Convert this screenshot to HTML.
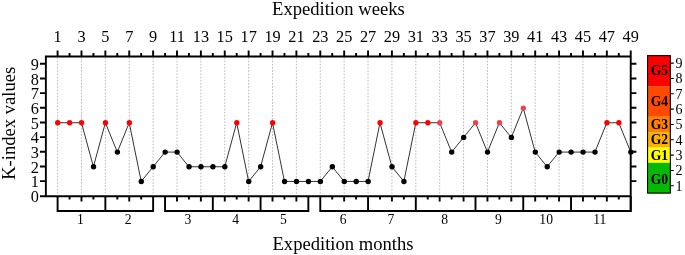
<!DOCTYPE html><html><head><meta charset="utf-8"><style>html,body{margin:0;padding:0;background:#fff;width:685px;height:255px;overflow:hidden}svg{display:block;will-change:transform}</style></head><body><svg width="685" height="255" viewBox="0 0 685 255">
<path d="M57.60 57.4V194.8 M81.48 57.4V194.8 M105.36 57.4V194.8 M129.24 57.4V194.8 M153.12 57.4V194.8 M177.00 57.4V194.8 M200.88 57.4V194.8 M224.76 57.4V194.8 M248.64 57.4V194.8 M272.52 57.4V194.8 M296.40 57.4V194.8 M320.28 57.4V194.8 M344.16 57.4V194.8 M368.04 57.4V194.8 M391.92 57.4V194.8 M415.80 57.4V194.8 M439.68 57.4V194.8 M463.56 57.4V194.8 M487.44 57.4V194.8 M511.32 57.4V194.8 M535.20 57.4V194.8 M559.08 57.4V194.8 M582.96 57.4V194.8 M606.84 57.4V194.8" stroke="#bdbdbd" stroke-width="1" stroke-dasharray="1.7 1.5" fill="none"/>
<polyline points="57.60,122.75 69.54,122.75 81.48,122.75 93.42,166.76 105.36,122.75 117.30,152.09 129.24,122.75 141.18,181.43 153.12,166.76 165.06,152.09 177.00,152.09 188.94,166.76 200.88,166.76 212.82,166.76 224.76,166.76 236.70,122.75 248.64,181.43 260.58,166.76 272.52,122.75 284.46,181.43 296.40,181.43 308.34,181.43 320.28,181.43 332.22,166.76 344.16,181.43 356.10,181.43 368.04,181.43 379.98,122.75 391.92,166.76 403.86,181.43 415.80,122.75 427.74,122.75 439.68,122.75 451.62,152.09 463.56,137.42 475.50,122.75 487.44,152.09 499.38,122.75 511.32,137.42 523.26,108.08 535.20,152.09 547.14,166.76 559.08,152.09 571.02,152.09 582.96,152.09 594.90,152.09 606.84,122.75 618.78,122.75 630.72,152.09" fill="none" stroke="#333" stroke-width="1.0"/>
<circle cx="57.70" cy="122.75" r="2.7" fill="#ff0000"/>
<circle cx="69.64" cy="122.75" r="2.7" fill="#ff0000"/>
<circle cx="81.58" cy="122.75" r="2.7" fill="#ff0000"/>
<circle cx="93.52" cy="166.76" r="2.7" fill="#000"/>
<circle cx="105.46" cy="122.75" r="2.7" fill="#ff0000"/>
<circle cx="117.40" cy="152.09" r="2.7" fill="#000"/>
<circle cx="129.34" cy="122.75" r="2.7" fill="#ff0000"/>
<circle cx="141.28" cy="181.43" r="2.7" fill="#000"/>
<circle cx="153.22" cy="166.76" r="2.7" fill="#000"/>
<circle cx="165.16" cy="152.09" r="2.7" fill="#000"/>
<circle cx="177.10" cy="152.09" r="2.7" fill="#000"/>
<circle cx="189.04" cy="166.76" r="2.7" fill="#000"/>
<circle cx="200.98" cy="166.76" r="2.7" fill="#000"/>
<circle cx="212.92" cy="166.76" r="2.7" fill="#000"/>
<circle cx="224.86" cy="166.76" r="2.7" fill="#000"/>
<circle cx="236.80" cy="122.75" r="2.7" fill="#ff0000"/>
<circle cx="248.74" cy="181.43" r="2.7" fill="#000"/>
<circle cx="260.68" cy="166.76" r="2.7" fill="#000"/>
<circle cx="272.62" cy="122.75" r="2.7" fill="#ff0000"/>
<circle cx="284.56" cy="181.43" r="2.7" fill="#000"/>
<circle cx="296.50" cy="181.43" r="2.7" fill="#000"/>
<circle cx="308.44" cy="181.43" r="2.7" fill="#000"/>
<circle cx="320.38" cy="181.43" r="2.7" fill="#000"/>
<circle cx="332.32" cy="166.76" r="2.7" fill="#000"/>
<circle cx="344.26" cy="181.43" r="2.7" fill="#000"/>
<circle cx="356.20" cy="181.43" r="2.7" fill="#000"/>
<circle cx="368.14" cy="181.43" r="2.7" fill="#000"/>
<circle cx="380.08" cy="122.75" r="2.7" fill="#ff0000"/>
<circle cx="392.02" cy="166.76" r="2.7" fill="#000"/>
<circle cx="403.96" cy="181.43" r="2.7" fill="#000"/>
<circle cx="415.90" cy="122.75" r="2.7" fill="#ff0000"/>
<circle cx="427.84" cy="122.75" r="2.7" fill="#ff0000"/>
<circle cx="439.78" cy="122.75" r="2.7" fill="#f2404a"/>
<circle cx="451.72" cy="152.09" r="2.7" fill="#000"/>
<circle cx="463.66" cy="137.42" r="2.7" fill="#000"/>
<circle cx="475.60" cy="122.75" r="2.7" fill="#f2404a"/>
<circle cx="487.54" cy="152.09" r="2.7" fill="#000"/>
<circle cx="499.48" cy="122.75" r="2.7" fill="#f2404a"/>
<circle cx="511.42" cy="137.42" r="2.7" fill="#000"/>
<circle cx="523.36" cy="108.08" r="2.7" fill="#f2404a"/>
<circle cx="535.30" cy="152.09" r="2.7" fill="#000"/>
<circle cx="547.24" cy="166.76" r="2.7" fill="#000"/>
<circle cx="559.18" cy="152.09" r="2.7" fill="#000"/>
<circle cx="571.12" cy="152.09" r="2.7" fill="#000"/>
<circle cx="583.06" cy="152.09" r="2.7" fill="#000"/>
<circle cx="595.00" cy="152.09" r="2.7" fill="#000"/>
<circle cx="606.94" cy="122.75" r="2.7" fill="#ff0000"/>
<circle cx="618.88" cy="122.75" r="2.7" fill="#ff0000"/>
<circle cx="630.82" cy="152.09" r="2.7" fill="#000"/>
<path d="M44.9 56.44H631.7 M40 196.20H631.7 M45.86 55.4V196.8 M630.72 50.5V212 M40 181.13H45 M40 166.46H45 M40 151.79H45 M40 137.12H45 M40 122.45H45 M40 107.78H45 M40 93.11H45 M40 78.44H45 M40 63.77H45 M631 181.13H636.4 M631 166.46H636.4 M631 151.79H636.4 M631 137.12H636.4 M631 122.45H636.4 M631 107.78H636.4 M631 93.11H636.4 M631 78.44H636.4 M631 63.77H636.4 M57.60 50.5V56 M69.54 53.0V56 M81.48 50.5V56 M93.42 53.0V56 M105.36 50.5V56 M117.30 53.0V56 M129.24 50.5V56 M141.18 53.0V56 M153.12 50.5V56 M165.06 53.0V56 M177.00 50.5V56 M188.94 53.0V56 M200.88 50.5V56 M212.82 53.0V56 M224.76 50.5V56 M236.70 53.0V56 M248.64 50.5V56 M260.58 53.0V56 M272.52 50.5V56 M284.46 53.0V56 M296.40 50.5V56 M308.34 53.0V56 M320.28 50.5V56 M332.22 53.0V56 M344.16 50.5V56 M356.10 53.0V56 M368.04 50.5V56 M379.98 53.0V56 M391.92 50.5V56 M403.86 53.0V56 M415.80 50.5V56 M427.74 53.0V56 M439.68 50.5V56 M451.62 53.0V56 M463.56 50.5V56 M475.50 53.0V56 M487.44 50.5V56 M499.38 53.0V56 M511.32 50.5V56 M523.26 53.0V56 M535.20 50.5V56 M547.14 53.0V56 M559.08 50.5V56 M571.02 53.0V56 M582.96 50.5V56 M594.90 53.0V56 M606.84 50.5V56 M618.78 53.0V56" stroke="#000" stroke-width="1.9" fill="none"/>
<path d="M57.60 196V211H105.36V196 M69.54 196V199.4 M81.48 196V201.6 M93.42 196V199.4 M105.36 196V211H153.12V196 M117.30 196V199.4 M129.24 196V201.6 M141.18 196V199.4 M165.06 196V211H212.82V196 M177.00 196V201.6 M188.94 196V199.4 M200.88 196V201.6 M212.82 196V211H260.58V196 M224.76 196V201.6 M236.70 196V199.4 M248.64 196V201.6 M260.58 196V211H308.34V196 M272.52 196V201.6 M284.46 196V199.4 M296.40 196V201.6 M320.28 196V211H368.04V196 M332.22 196V199.4 M344.16 196V201.6 M356.10 196V199.4 M368.04 196V211H415.80V196 M379.98 196V199.4 M391.92 196V201.6 M403.86 196V199.4 M415.80 196V211H475.50V196 M427.74 196V199.4 M439.68 196V201.6 M451.62 196V199.4 M463.56 196V201.6 M475.50 196V211H523.26V196 M487.44 196V201.6 M499.38 196V199.4 M511.32 196V201.6 M523.26 196V211H571.02V196 M535.20 196V201.6 M547.14 196V199.4 M559.08 196V201.6 M571.02 196V211H630.72V196 M582.96 196V201.6 M594.90 196V199.4 M606.84 196V201.6 M618.78 196V199.4" stroke="#000" stroke-width="1.9" fill="none"/>
<g font-family="Liberation Serif" fill="#000">
<text x="338.4" y="15.0" font-size="18.6" text-anchor="middle">Expedition weeks</text>
<text x="343" y="249.6" font-size="18.6" text-anchor="middle">Expedition months</text>
<text transform="translate(14.9 123.3) rotate(-90)" font-size="18.6" text-anchor="middle">K-index values</text>
<text x="57.60" y="42.2" font-size="16.3" text-anchor="middle">1</text>
<text x="81.48" y="42.2" font-size="16.3" text-anchor="middle">3</text>
<text x="105.36" y="42.2" font-size="16.3" text-anchor="middle">5</text>
<text x="129.24" y="42.2" font-size="16.3" text-anchor="middle">7</text>
<text x="153.12" y="42.2" font-size="16.3" text-anchor="middle">9</text>
<text x="177.00" y="42.2" font-size="16.3" text-anchor="middle">11</text>
<text x="200.88" y="42.2" font-size="16.3" text-anchor="middle">13</text>
<text x="224.76" y="42.2" font-size="16.3" text-anchor="middle">15</text>
<text x="248.64" y="42.2" font-size="16.3" text-anchor="middle">17</text>
<text x="272.52" y="42.2" font-size="16.3" text-anchor="middle">19</text>
<text x="296.40" y="42.2" font-size="16.3" text-anchor="middle">21</text>
<text x="320.28" y="42.2" font-size="16.3" text-anchor="middle">23</text>
<text x="344.16" y="42.2" font-size="16.3" text-anchor="middle">25</text>
<text x="368.04" y="42.2" font-size="16.3" text-anchor="middle">27</text>
<text x="391.92" y="42.2" font-size="16.3" text-anchor="middle">29</text>
<text x="415.80" y="42.2" font-size="16.3" text-anchor="middle">31</text>
<text x="439.68" y="42.2" font-size="16.3" text-anchor="middle">33</text>
<text x="463.56" y="42.2" font-size="16.3" text-anchor="middle">35</text>
<text x="487.44" y="42.2" font-size="16.3" text-anchor="middle">37</text>
<text x="511.32" y="42.2" font-size="16.3" text-anchor="middle">39</text>
<text x="535.20" y="42.2" font-size="16.3" text-anchor="middle">41</text>
<text x="559.08" y="42.2" font-size="16.3" text-anchor="middle">43</text>
<text x="582.96" y="42.2" font-size="16.3" text-anchor="middle">45</text>
<text x="606.84" y="42.2" font-size="16.3" text-anchor="middle">47</text>
<text x="630.72" y="42.2" font-size="16.3" text-anchor="middle">49</text>
<text x="38.9" y="201.90" font-size="16.3" text-anchor="end">0</text>
<text x="38.9" y="187.23" font-size="16.3" text-anchor="end">1</text>
<text x="38.9" y="172.56" font-size="16.3" text-anchor="end">2</text>
<text x="38.9" y="157.89" font-size="16.3" text-anchor="end">3</text>
<text x="38.9" y="143.22" font-size="16.3" text-anchor="end">4</text>
<text x="38.9" y="128.55" font-size="16.3" text-anchor="end">5</text>
<text x="38.9" y="113.88" font-size="16.3" text-anchor="end">6</text>
<text x="38.9" y="99.21" font-size="16.3" text-anchor="end">7</text>
<text x="38.9" y="84.54" font-size="16.3" text-anchor="end">8</text>
<text x="38.9" y="69.87" font-size="16.3" text-anchor="end">9</text>
<text x="80.48" y="223.9" font-size="13.6" text-anchor="middle">1</text>
<text x="128.24" y="223.9" font-size="13.6" text-anchor="middle">2</text>
<text x="187.94" y="223.9" font-size="13.6" text-anchor="middle">3</text>
<text x="235.70" y="223.9" font-size="13.6" text-anchor="middle">4</text>
<text x="283.46" y="223.9" font-size="13.6" text-anchor="middle">5</text>
<text x="343.16" y="223.9" font-size="13.6" text-anchor="middle">6</text>
<text x="390.92" y="223.9" font-size="13.6" text-anchor="middle">7</text>
<text x="444.65" y="223.9" font-size="13.6" text-anchor="middle">8</text>
<text x="498.38" y="223.9" font-size="13.6" text-anchor="middle">9</text>
<text x="546.14" y="223.9" font-size="13.6" text-anchor="middle">10</text>
<text x="599.87" y="223.9" font-size="13.6" text-anchor="middle">11</text>
</g>
<rect x="647.3" y="55.48" width="23.3" height="30.66" fill="#ff0000"/>
<rect x="647.3" y="86.14" width="23.3" height="30.66" fill="#ff4a00"/>
<rect x="647.3" y="116.80" width="23.3" height="15.33" fill="#ff7f00"/>
<rect x="647.3" y="132.13" width="23.3" height="15.33" fill="#ffb000"/>
<rect x="647.3" y="147.46" width="23.3" height="15.33" fill="#ffff00"/>
<rect x="647.3" y="162.79" width="23.3" height="30.66" fill="#06b806"/>
<rect x="647.55" y="55.65" width="22.8" height="137.4" fill="none" stroke="#000" stroke-width="1.1"/>
<path d="M670.5 185.78H673.8 M670.5 170.45H673.8 M670.5 155.12H673.8 M670.5 139.79H673.8 M670.5 124.46H673.8 M670.5 109.13H673.8 M670.5 93.80H673.8 M670.5 78.47H673.8 M670.5 63.14H673.8" stroke="#000" stroke-width="1.1" fill="none"/>
<g font-family="Liberation Serif" fill="#000">
<text x="659.4" y="75.41" font-size="13.6" font-weight="bold" text-anchor="middle">G5</text>
<text x="659.4" y="106.07" font-size="13.6" font-weight="bold" text-anchor="middle">G4</text>
<text x="659.4" y="129.06" font-size="13.6" font-weight="bold" text-anchor="middle">G3</text>
<text x="659.4" y="144.39" font-size="13.6" font-weight="bold" text-anchor="middle">G2</text>
<text x="659.4" y="159.72" font-size="13.6" font-weight="bold" text-anchor="middle">G1</text>
<text x="659.4" y="183.52" font-size="13.6" font-weight="bold" text-anchor="middle">G0</text>
<text x="675.6" y="190.69" font-size="14">1</text>
<text x="675.6" y="175.35" font-size="14">2</text>
<text x="675.6" y="160.03" font-size="14">3</text>
<text x="675.6" y="144.69" font-size="14">4</text>
<text x="675.6" y="129.36" font-size="14">5</text>
<text x="675.6" y="114.03" font-size="14">6</text>
<text x="675.6" y="98.70" font-size="14">7</text>
<text x="675.6" y="83.38" font-size="14">8</text>
<text x="675.6" y="68.04" font-size="14">9</text>
</g>
</svg></body></html>
